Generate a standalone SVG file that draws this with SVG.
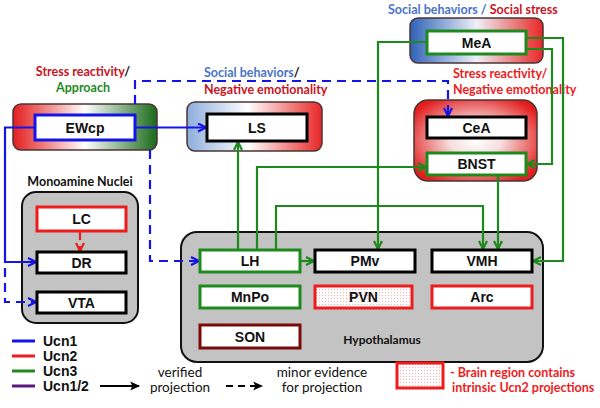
<svg xmlns="http://www.w3.org/2000/svg" width="600" height="408" viewBox="0 0 600 408">
<defs>
<style>
.node{fill:#fff;stroke-width:3}
.bk{stroke:#000}.gr{stroke:#1e8a1e}.bl{stroke:#1414e6}.rd{stroke:#ee1c1c}.dr{stroke:#7a0a0a}
.lbl{font-family:"Liberation Sans",Arial,sans-serif;font-weight:bold;font-size:14px;text-anchor:middle;fill:#111}
.leg{font-family:"Liberation Sans",Arial,sans-serif;font-weight:bold;font-size:14px;fill:#111}
.cap{font-family:Lato,"Open Sans",sans-serif;font-weight:bold;font-size:12.5px}
.reg{font-family:Lato,"Open Sans",sans-serif;font-size:13.5px;fill:#111;text-anchor:middle}
.outer{stroke:#4a3434;stroke-width:1.5}
.grp{fill:#c3c3c3;stroke:#111;stroke-width:2}
.c{fill:none;stroke-width:2.2}
.cg{stroke:#1e8a1e;marker-end:url(#ag)}
.cb{stroke:#1414e6;marker-end:url(#ab)}
.dash{stroke-dasharray:9,6}
</style>
<marker id="ag" viewBox="0 0 10 10" refX="9" refY="5" markerWidth="10" markerHeight="10" markerUnits="userSpaceOnUse" orient="auto"><path d="M1,1 L9,5 L1,9" fill="none" stroke="#1e8a1e" stroke-width="2.2"/></marker>
<marker id="ab" viewBox="0 0 10 10" refX="9" refY="5" markerWidth="10" markerHeight="10" markerUnits="userSpaceOnUse" orient="auto"><path d="M1,1 L9,5 L1,9" fill="none" stroke="#1414e6" stroke-width="2.2"/></marker>
<marker id="ar" viewBox="0 0 10 10" refX="9" refY="5" markerWidth="10" markerHeight="10" markerUnits="userSpaceOnUse" orient="auto"><path d="M1,1 L9,5 L1,9" fill="none" stroke="#ee1c1c" stroke-width="2.2"/></marker>
<marker id="ak" viewBox="0 0 10 10" refX="8" refY="5" markerWidth="11" markerHeight="11" markerUnits="userSpaceOnUse" orient="auto"><path d="M0,1 L9,5 L0,9 L2,5 Z" fill="#000"/></marker>
<linearGradient id="gEW" x1="0" x2="1" y1="0" y2="0"><stop offset="0" stop-color="#e41e1e"/><stop offset="0.5" stop-color="#ffffff"/><stop offset="1" stop-color="#1b6a1b"/></linearGradient>
<linearGradient id="gLS" x1="0" x2="1" y1="0" y2="0"><stop offset="0" stop-color="#8eaedc"/><stop offset="0.45" stop-color="#ffffff"/><stop offset="1" stop-color="#e82626"/></linearGradient>
<linearGradient id="gMe" x1="0" x2="1" y1="0" y2="0"><stop offset="0" stop-color="#2f62b8"/><stop offset="0.5" stop-color="#eef0f8"/><stop offset="1" stop-color="#e82626"/></linearGradient>
<radialGradient id="gCe" cx="0.5" cy="0.5" r="0.6"><stop offset="0" stop-color="#ffffff"/><stop offset="0.35" stop-color="#f6dede"/><stop offset="1" stop-color="#e41e1e"/></radialGradient>
<pattern id="dots" width="3" height="3" patternUnits="userSpaceOnUse"><rect width="3" height="3" fill="#fff"/><circle cx="1.5" cy="1.5" r="0.7" fill="#f2b8b8"/></pattern>
</defs>
<rect width="600" height="408" fill="#fff"/>

<g id="group-boxes">
<rect class="grp" x="22" y="192" width="116" height="131" rx="14"/>
<rect class="grp" x="181" y="232" width="362" height="130" rx="16"/>
<rect class="outer" x="13" y="104" width="144" height="46" rx="8" fill="url(#gEW)"/>
<rect class="outer" x="187" y="102" width="135" height="49" rx="8" fill="url(#gLS)"/>
<rect class="outer" x="410" y="18" width="133" height="45" rx="8" fill="url(#gMe)"/>
<rect class="outer" x="414" y="100" width="123" height="81" rx="14" fill="url(#gCe)"/>
</g>

<g id="captions">
<text class="cap" x="83" y="76" text-anchor="middle"><tspan fill="#c8141e">Stress reactivity</tspan><tspan fill="#111">/</tspan></text>
<text class="cap" x="83" y="92" text-anchor="middle" fill="#1e8a1e">Approach</text>
<text class="cap" x="204" y="77"><tspan fill="#4a74c8">Social behaviors</tspan><tspan fill="#111">/</tspan></text>
<text class="cap" x="204" y="94" fill="#c8141e">Negative emotionality</text>
<text class="cap" x="388" y="14"><tspan fill="#4a74c8">Social behaviors / </tspan><tspan fill="#c8141e">Social stress</tspan></text>
<text class="cap" x="453" y="78" fill="#ee1c1c">Stress reactivity/</text>
<text class="cap" x="453" y="94" fill="#ee1c1c">Negative emotionality</text>
<text class="cap" x="80" y="186" text-anchor="middle" fill="#111">Monoamine Nuclei</text>
<text class="cap" x="382" y="344" text-anchor="middle" fill="#111" style="font-size:12px">Hypothalamus</text>
</g>

<g id="connectors">
<path class="c cb" d="M135,127.5 H206"/>
<path class="c cb" d="M35,127.5 H5 V262 H36"/>
<path class="c cb dash" d="M5,268 V302 H36"/>
<path class="c cb dash" d="M150,150 V261 H199"/>
<path class="c cb dash" d="M135,104 V81 H448 V116"/>
<path class="c dash" stroke="#ee1c1c" marker-end="url(#ar)" stroke-dasharray="5,3" d="M80,231 V251"/>
<path class="c cg" d="M238,250 V142"/>
<path class="c cg" d="M257,250 V167 H426"/>
<path class="c cg" d="M276,250 V206 H483 V249"/>
<path class="c cg" d="M300,261 H314"/>
<path class="c cg" d="M427,42 H378 V249"/>
<path class="c cg" d="M526,49 H552 V164 H527"/>
<path class="c cg" d="M526,38 H563 V261 H533"/>
<path class="c cg" d="M498,175 V249"/>
</g>

<g id="node-EWcp"><rect class="node bl" x="35" y="115" width="100" height="25"/><text class="lbl" x="85" y="133">EWcp</text></g>
<g id="node-LS"><rect class="node bk" x="207" y="114" width="100" height="27"/><text class="lbl" x="257" y="133">LS</text></g>
<g id="node-MeA"><rect class="node gr" x="427" y="31" width="99" height="23"/><text class="lbl" x="476.5" y="48">MeA</text></g>
<g id="node-CeA"><rect class="node bk" x="427" y="117" width="99" height="21"/><text class="lbl" x="476.5" y="133">CeA</text></g>
<g id="node-BNST"><rect class="node gr" x="427" y="153" width="99" height="22"/><text class="lbl" x="476.5" y="169">BNST</text></g>
<g id="node-LC"><rect class="node rd" x="37" y="207" width="89" height="24"/><text class="lbl" x="81.5" y="224">LC</text></g>
<g id="node-DR"><rect class="node bk" x="37" y="252" width="89" height="21"/><text class="lbl" x="81.5" y="268">DR</text></g>
<g id="node-VTA"><rect class="node bk" x="37" y="292" width="89" height="21"/><text class="lbl" x="81.5" y="308">VTA</text></g>
<g id="node-LH"><rect class="node gr" x="200" y="250" width="100" height="22"/><text class="lbl" x="250" y="266">LH</text></g>
<g id="node-PMv"><rect class="node bk" x="315" y="250" width="100" height="22"/><text class="lbl" x="365" y="266">PMv</text></g>
<g id="node-VMH"><rect class="node bk" x="432" y="250" width="100" height="22"/><text class="lbl" x="482" y="266">VMH</text></g>
<g id="node-MnPo"><rect class="node gr" x="200" y="286" width="100" height="22"/><text class="lbl" x="250" y="302">MnPo</text></g>
<g id="node-PVN"><rect class="node rd" x="315" y="286" width="97" height="22" style="fill:url(#dots)"/><text class="lbl" x="363.5" y="302">PVN</text></g>
<g id="node-Arc"><rect class="node rd" x="432" y="286" width="100" height="22"/><text class="lbl" x="482" y="302">Arc</text></g>
<g id="node-SON"><rect class="node dr" x="200" y="325" width="100" height="23"/><text class="lbl" x="250" y="342">SON</text></g>

<g id="legend">
<line x1="12" y1="341" x2="35" y2="341" stroke="#1414e6" stroke-width="3"/>
<line x1="12" y1="356" x2="35" y2="356" stroke="#ee1c1c" stroke-width="3"/>
<line x1="12" y1="371" x2="35" y2="371" stroke="#1e8a1e" stroke-width="3"/>
<line x1="12" y1="386" x2="35" y2="386" stroke="#5a1a7a" stroke-width="3"/>
<text class="leg" x="43" y="346">Ucn1</text>
<text class="leg" x="43" y="361">Ucn2</text>
<text class="leg" x="43" y="376">Ucn3</text>
<text class="leg" x="43" y="391">Ucn1/2</text>
<line x1="100" y1="386" x2="139" y2="386" stroke="#000" stroke-width="2" marker-end="url(#ak)"/>
<text class="reg" x="180" y="377">verified</text>
<text class="reg" x="180" y="392">projection</text>
<line x1="226" y1="386" x2="262" y2="386" stroke="#000" stroke-width="2" stroke-dasharray="7,5" marker-end="url(#ak)"/>
<text class="reg" x="322" y="377">minor evidence</text>
<text class="reg" x="322" y="392">for  projection</text>
<rect x="397" y="363" width="46" height="25" fill="url(#dots)" stroke="#ee1c1c" stroke-width="3"/>
<text class="cap" x="450" y="377" fill="#ee1c1c">- Brain region contains</text>
<text class="cap" x="452" y="392" fill="#ee1c1c">intrinsic Ucn2 projections</text>
</g>
</svg>
